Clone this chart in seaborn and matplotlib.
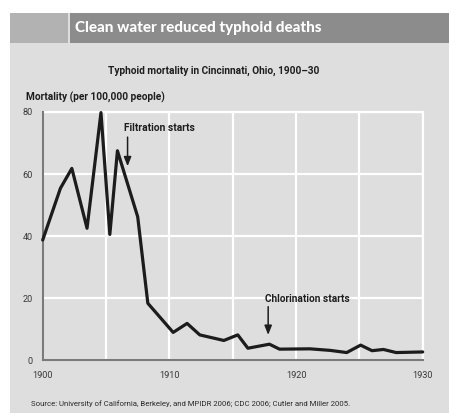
import numpy as np
import pandas as pd
import matplotlib
matplotlib.use("Agg")
import matplotlib.pyplot as plt
from matplotlib.patches import Rectangle
from matplotlib import font_manager
import seaborn as sns

# Typhoid mortality (year positions as drawn)
years = [1900.0, 1901.4, 1902.3, 1903.5, 1904.6, 1905.3, 1905.9, 1907.5, 1908.3,
         1910.3, 1911.4, 1912.4, 1914.3, 1915.4, 1916.2, 1917.9, 1918.7, 1921.1,
         1922.7, 1924.0, 1925.1, 1926.0, 1926.9, 1927.9, 1930.0]
mortality = [38.7, 55.4, 61.8, 42.5, 79.8, 40.5, 67.5, 46.2, 18.3,
             8.9, 11.8, 8.1, 6.3, 8.1, 3.8, 5.1, 3.5, 3.6,
             3.1, 2.4, 4.8, 3.0, 3.4, 2.4, 2.6]
x_ticks = [1900, 1910, 1920, 1930]
y_ticks = [0, 20, 40, 60, 80]

df = pd.DataFrame({"year": years, "mortality": mortality})

W, H = 449, 415
panel_grey = "#dedede"
ink = "#1e1e1e"


def have_font(name):
    try:
        font_manager.findfont(font_manager.FontProperties(family=name),
                              fallback_to_default=False)
        return True
    except ValueError:
        return False


narrow = "Liberation Sans Narrow" if have_font("Liberation Sans Narrow") else "Roboto"

sns.set_style("white")
plt.rcParams["font.family"] = [narrow, "DejaVu Sans"]

fig = plt.figure(figsize=(W / 100, H / 100), dpi=100)
fig.patch.set_facecolor("white")
renderer = fig.canvas.get_renderer()


def px_rect(x0, y0, x1, y1, color):
    # rectangle given in picture pixels (y from top)
    fig.add_artist(Rectangle((x0 / W, 1 - y1 / H), (x1 - x0) / W, (y1 - y0) / H,
                             transform=fig.transFigure, facecolor=color,
                             edgecolor="none", zorder=0))


def fit_width(txt, target_px):
    # scale the font so the text spans the same width as in the picture
    w = txt.get_window_extent(renderer=renderer).width
    txt.set_fontsize(txt.get_fontsize() * target_px / w)


px_rect(10, 13, W, 413, panel_grey)
px_rect(10, 13, 68, 43, "#b2b2b2")
px_rect(70, 13, W, 43, "#8c8c8c")

t = fig.text(75 / W, 1 - 28 / H, "Clean water reduced typhoid deaths", color="white",
             fontsize=10.5, fontweight="black", family=["Lato", "DejaVu Sans"],
             va="center", ha="left")
fit_width(t, 247)
t = fig.text(214 / W, 1 - 71 / H, "Typhoid mortality in Cincinnati, Ohio, 1900\u201330",
             fontsize=7.5, fontweight="bold", color=ink, ha="center", va="center")
fit_width(t, 212)
t = fig.text(26 / W, 1 - 97 / H, "Mortality (per 100,000 people)",
             fontsize=7.5, fontweight="bold", color=ink, ha="left", va="center")
fit_width(t, 138)
t = fig.text(31 / W, 1 - 404 / H,
             "Source: University of California, Berkeley, and MPIDR 2006; CDC 2006; Cutler and Miller 2005.",
             fontsize=5.6, color="#2a2a2a", ha="left", va="center")
fit_width(t, 317)

ax = fig.add_axes([42.7 / W, 1 - 360 / H, 380 / W, 248 / H])
ax.set_facecolor(panel_grey)

sns.lineplot(data=df, x="year", y="mortality", estimator=None, sort=False,
             color="#1c1c1c", linewidth=2.3, ax=ax, clip_on=False, zorder=3)

ax.set_xlim(1900, 1930)
ax.set_ylim(0, 80)
ax.set_xticks(x_ticks)
ax.set_xticks([1905, 1915, 1925], minor=True)
ax.set_yticks(y_ticks)
ax.grid(True, which="both", color="white", linewidth=1.6)
ax.set_axisbelow(True)
ax.tick_params(which="both", length=0, labelsize=6.6, labelcolor="#3a3a3a")
ax.tick_params(axis="x", pad=8)
ax.tick_params(axis="y", pad=7)
ax.set_xlabel("")
ax.set_ylabel("")
for side in ["top", "right"]:
    ax.spines[side].set_visible(False)
for side in ["left", "bottom"]:
    ax.spines[side].set_color("#7a7a7a")
    ax.spines[side].set_linewidth(1.5)

# the 80 and 1930 grid lines sit on the axes edge
ax.axhline(80, color="white", linewidth=1.6, zorder=1, clip_on=False)
ax.axvline(1930, color="white", linewidth=1.6, zorder=1, clip_on=False)

arrow = dict(arrowstyle="-|>,head_width=0.22,head_length=0.55", color=ink,
             lw=1.1, shrinkA=0, shrinkB=0)
t = ax.text(1906.45, 74.8, "Filtration starts", fontsize=7.5, fontweight="bold",
            color=ink, va="center", ha="left")
fit_width(t, 71)
ax.annotate("", xy=(1906.7, 62.5), xytext=(1906.7, 71.9), arrowprops=arrow)
t = ax.text(1917.55, 19.7, "Chlorination starts", fontsize=7.5, fontweight="bold",
            color=ink, va="center", ha="left")
fit_width(t, 84)
ax.annotate("", xy=(1917.8, 8.1), xytext=(1917.8, 17.2), arrowprops=arrow)

fig.savefig("out.png", dpi=100, facecolor=fig.get_facecolor())
